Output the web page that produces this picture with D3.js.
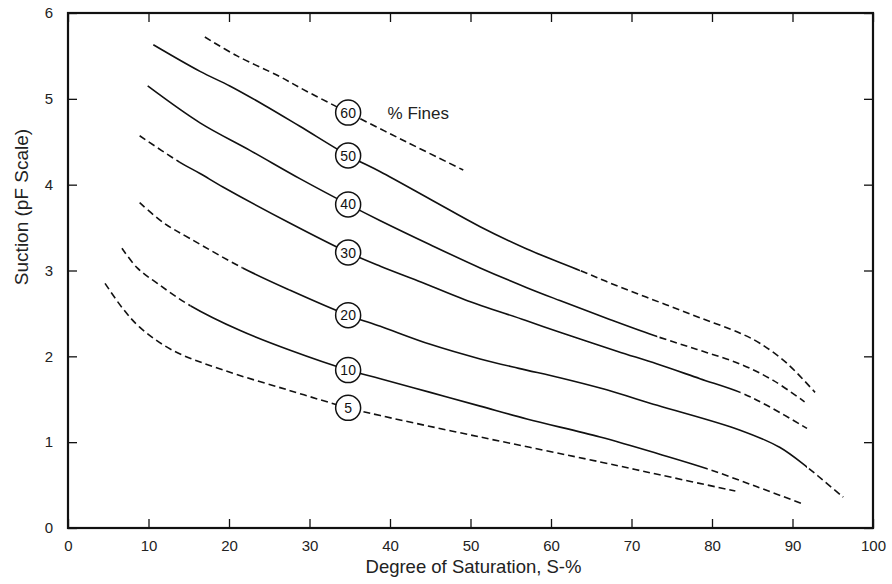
<!DOCTYPE html>
<html><head><meta charset="utf-8">
<script src="https://cdn.jsdelivr.net/npm/d3@7"></script>
<style>body{margin:0;background:#fff}svg{display:block}</style>
</head><body>
<svg id="c" width="892" height="584"></svg>
<script>
// ---- data ----
const xTicks = [0,10,20,30,40,50,60,70,80,90,100];
const yTicks = [0,1,2,3,4,5,6];
const fines = ["60","50","40","30","20","10","5"];
const labelAt = 34.8;

const fines60 = [[17.0,5.72],[21,5.50],[26.3,5.26],[28.8,5.13],[34.8,4.84],[42,4.50],[49.1,4.17]];
const fines50 = [[10.6,5.63],[16.4,5.32],[20.1,5.15],[24.5,4.92],[28.8,4.68],[34.8,4.34],[38.8,4.15],[45,3.83],[51.2,3.51],[57,3.25],[63.6,3.00],[68.5,2.81],[73.5,2.63],[78.5,2.45],[83.5,2.27],[86,2.15],[89.3,1.92],[92.8,1.58]];
const fines40 = [[9.9,5.15],[16.4,4.72],[22.6,4.40],[28.8,4.07],[34.8,3.77],[38.8,3.58],[45,3.30],[51.2,3.03],[57,2.80],[61.1,2.65],[67.3,2.43],[73.2,2.23],[78.5,2.07],[83.5,1.91],[87.6,1.72],[91.5,1.47]];
const fines30 = [[8.9,4.57],[13.9,4.26],[16.4,4.13],[19.3,3.97],[27.6,3.55],[34.8,3.21],[38.8,3.05],[44,2.86],[49.3,2.66],[56.8,2.42],[61.1,2.28],[68.2,2.06],[73.2,1.91],[78.5,1.74],[83.5,1.58],[86.8,1.43],[91.8,1.16]];
const fines20 = [[8.9,3.79],[11.8,3.56],[15.2,3.37],[21.7,3.03],[27.6,2.77],[34.8,2.48],[38.8,2.35],[45,2.14],[51.2,1.97],[56,1.86],[61.1,1.75],[66.1,1.63],[73.2,1.43],[83.5,1.14],[88.4,0.94],[91.8,0.71],[94,0.54],[96.3,0.36]];
const fines10 = [[6.7,3.26],[8.6,3.03],[11.1,2.85],[15.2,2.59],[21.4,2.30],[27.6,2.07],[34.8,1.84],[38.8,1.74],[45,1.58],[51.2,1.42],[57,1.27],[66.1,1.06],[73.5,0.86],[79.4,0.69],[85.6,0.48],[91.3,0.28]];
const fines5  = [[4.6,2.85],[6.7,2.57],[8.9,2.34],[13.0,2.07],[19.3,1.84],[27.6,1.60],[34.8,1.40],[38.8,1.31],[51.2,1.06],[66.1,0.77],[73.5,0.62],[82.9,0.43]];
// solid (measured) part of each curve, dashed elsewhere; null = all dashed
const solidRanges = [null,[0,63.6],[0,73.2],[13.9,83.5],[21.7,91.8],[15.2,79.4],null];
const allCurves = [fines60,fines50,fines40,fines30,fines20,fines10,fines5];

// ---- layout ----
const L = 68, R = 873, T = 13, B = 528;
const svg = d3.select("#c");
const x = d3.scaleLinear().domain([0,100]).range([L,R]);
const y = d3.scaleLinear().domain([0,6]).range([B,T]);
const font = "'Liberation Sans', Arial, Helvetica, sans-serif";

// axes with inward ticks
const tk = 9;
svg.append("g").attr("transform",`translate(0,${B})`)
  .call(d3.axisBottom(x).tickValues(xTicks).tickFormat(d3.format("d")).tickSizeInner(-tk).tickSizeOuter(0).tickPadding(6))
  .call(g=>{g.select(".domain").remove();g.selectAll("text").attr("dy","1.1em").style("font-family",font).style("font-size","15px").attr("fill","#222");});
svg.append("g").attr("transform",`translate(0,${T})`)
  .call(d3.axisTop(x).tickValues(xTicks).tickSizeInner(-tk).tickSizeOuter(0).tickFormat(""))
  .call(g=>g.select(".domain").remove());
svg.append("g").attr("transform",`translate(${L},0)`)
  .call(d3.axisLeft(y).tickValues(yTicks).tickFormat(d3.format("d")).tickSizeInner(-tk).tickSizeOuter(0).tickPadding(15))
  .call(g=>{g.select(".domain").remove();g.selectAll("text").style("font-family",font).style("font-size","15px").attr("fill","#222");});
svg.append("g").attr("transform",`translate(${R},0)`)
  .call(d3.axisRight(y).tickValues(yTicks).tickSizeInner(-tk).tickSizeOuter(0).tickFormat(""))
  .call(g=>g.select(".domain").remove());
svg.selectAll(".tick line").attr("stroke","#111").attr("stroke-width",1.3);
svg.append("rect").attr("x",L).attr("y",T).attr("width",R-L).attr("height",B-T)
  .attr("fill","none").attr("stroke","#111").attr("stroke-width",2.2);

// curves
const line = d3.line().x(d=>x(d[0])).y(d=>y(d[1])).curve(d3.curveCatmullRom.alpha(0.5));
const defs = svg.append("defs");
allCurves.forEach((pts,i)=>{
  const r = solidRanges[i];
  const dpath = line(pts);
  if(!r){
    svg.append("path").attr("d",dpath).attr("fill","none").attr("stroke","#111")
      .attr("stroke-width",1.6).attr("stroke-dasharray","7,4");
    return;
  }
  const cs = "solid"+i, cd = "dash"+i;
  const x0 = x(Math.max(r[0],pts[0][0]-1)), x1 = x(r[1]);
  defs.append("clipPath").attr("id",cs).append("rect").attr("x",x0).attr("y",0).attr("width",x1-x0).attr("height",584);
  const cp = defs.append("clipPath").attr("id",cd);
  cp.append("rect").attr("x",0).attr("y",0).attr("width",Math.max(0,x0)).attr("height",584);
  cp.append("rect").attr("x",x1).attr("y",0).attr("width",892-x1).attr("height",584);
  svg.append("path").attr("d",dpath).attr("fill","none").attr("stroke","#111")
    .attr("stroke-width",1.6).attr("clip-path",`url(#${cs})`);
  svg.append("path").attr("d",dpath).attr("fill","none").attr("stroke","#111")
    .attr("stroke-width",1.6).attr("stroke-dasharray","7,4").attr("clip-path",`url(#${cd})`);
});

// circled labels
allCurves.forEach((pts,i)=>{
  const p = pts.find(d=>d[0]===labelAt);
  const g = svg.append("g").attr("transform",`translate(${x(p[0])},${y(p[1])})`);
  g.append("circle").attr("r",12.5).attr("fill","#fff").attr("stroke","#111").attr("stroke-width",1.5);
  g.append("text").attr("text-anchor","middle").attr("dy","0.36em")
    .style("font-family",font).style("font-size","14px").attr("fill","#111").text(fines[i]);
});
svg.append("text").attr("x",x(39.7)).attr("y",y(4.84)).attr("dy","0.36em")
  .style("font-family",font).style("font-size","17px").attr("fill","#222").text("% Fines");

// axis titles
svg.append("text").attr("x",(L+R)/2+3).attr("y",573).attr("text-anchor","middle")
  .style("font-family",font).style("font-size","18.5px").attr("fill","#222").text("Degree of Saturation, S-%");
svg.append("text").attr("transform","translate(28,207) rotate(-90)").attr("text-anchor","middle")
  .style("font-family",font).style("font-size","19px").attr("fill","#222").text("Suction (pF Scale)");
</script>
</body></html>
